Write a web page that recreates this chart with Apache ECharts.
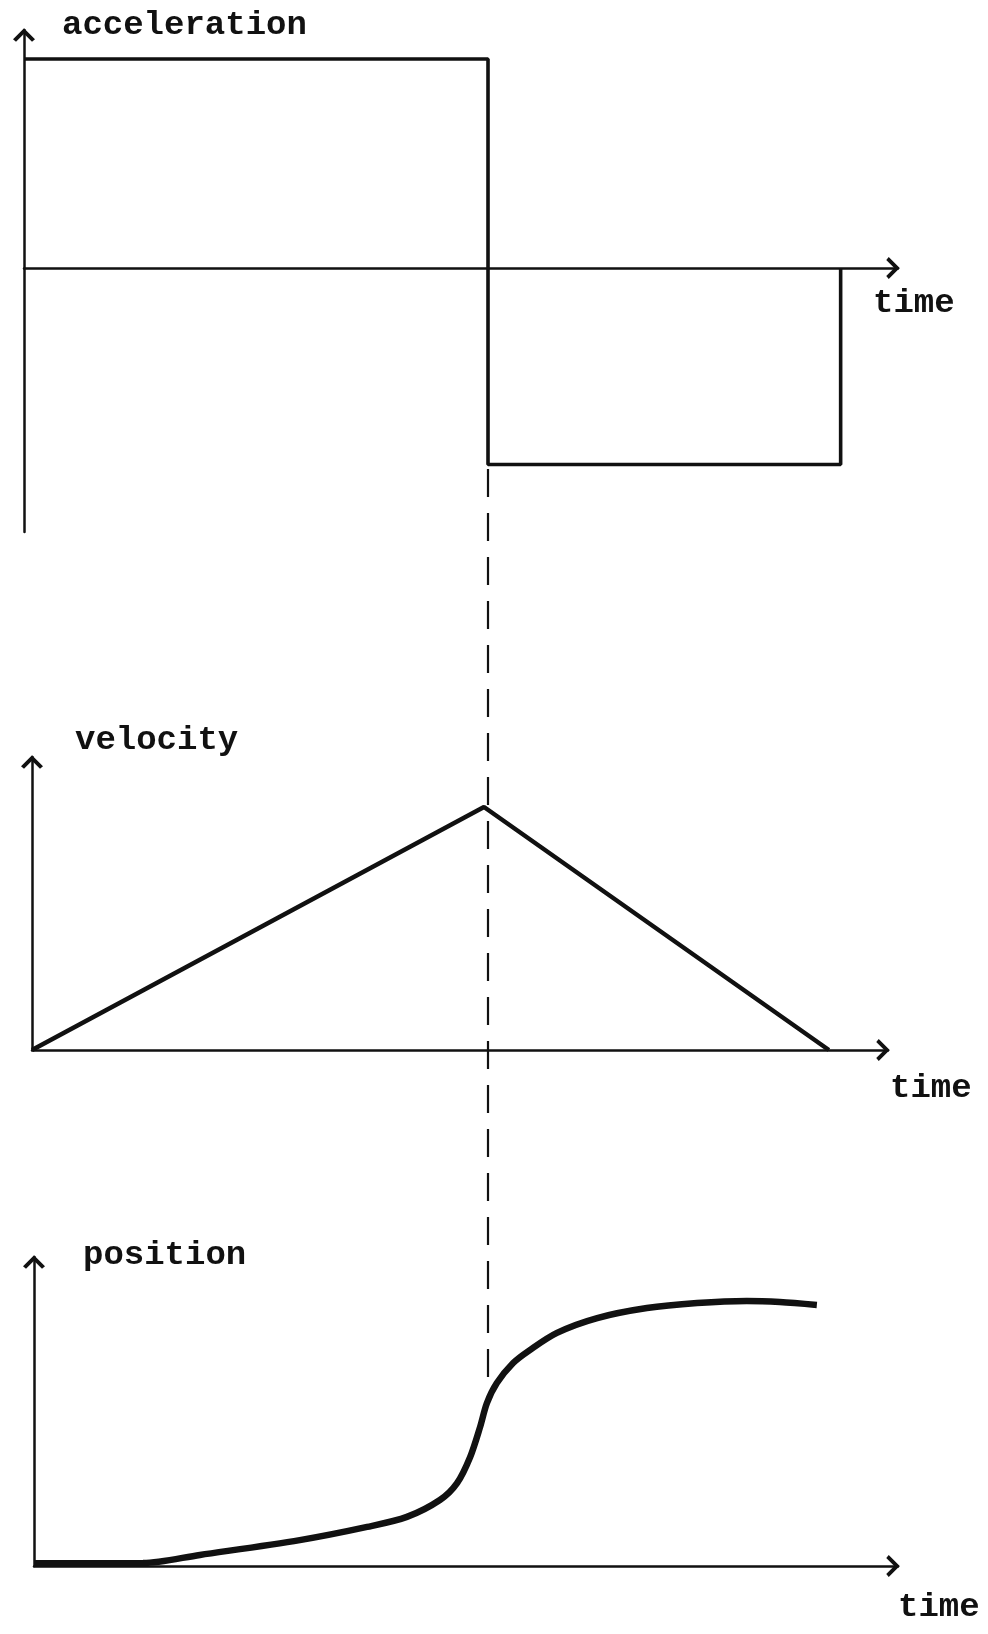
<!DOCTYPE html>
<html>
<head>
<meta charset="utf-8">
<script src="https://cdn.jsdelivr.net/npm/echarts@6/dist/echarts.min.js"></script>
<style>
  html, body { margin: 0; padding: 0; background: #fff; }
  #chart { width: 988px; height: 1634px; }
</style>
</head>
<body>
<div id="chart"></div>
<script>
// ---- data (time in units of the switch time t1 = 1) ----
const switchTime = 1;
const accelTime = [0, 1, 1, 1.76, 1.76];
const accelValue = [1, 1, -0.94, -0.94, 0];
const velTime = [0, 1, 1.763];
const velValue = [0, 1, 0];
const posTime = [0, 0.241, 0.367, 0.588, 0.737, 0.825, 0.898, 0.936, 0.965, 0.987, 1.002, 1.024, 1.060, 1.097, 1.157, 1.246, 1.356, 1.467, 1.577, 1.650, 1.732];
const posValue = [0.01, 0.011, 0.042, 0.098, 0.148, 0.186, 0.250, 0.314, 0.413, 0.527, 0.617, 0.693, 0.769, 0.818, 0.883, 0.939, 0.977, 0.996, 1.004, 1.000, 0.989];
const panelLabels = ['acceleration', 'velocity', 'position'];
const axisLabel = 'time';

const ink = '#111';
const font = 'bold 34px "Liberation Mono", "DejaVu Sans Mono", monospace';
const chevron = 'path://M0,11 L11,0 L22,11 L19,13.5 L11,5.5 L3,13.5 Z';

function zip(a, b) { return a.map((v, i) => [v, b[i]]); }

function axisLineStyle(ends) {
  return {
    show: true,
    onZero: true,
    symbol: ends,
    symbolSize: [22, 14],
    symbolOffset: [0, -5],
    lineStyle: { color: ink, width: 2.5 }
  };
}
function xAx(gridIndex, max, show) {
  return {
    type: 'value', gridIndex, min: 0, max,
    axisLine: show ? axisLineStyle(['none', chevron]) : { show: false },
    axisTick: { show: false }, axisLabel: { show: false }, splitLine: { show: false }
  };
}
function yAx(gridIndex, min, max, show) {
  return {
    type: 'value', gridIndex, min, max,
    axisLine: show ? axisLineStyle(['none', chevron]) : { show: false },
    axisTick: { show: false }, axisLabel: { show: false }, splitLine: { show: false }
  };
}

const chart = echarts.init(document.getElementById('chart'), null, { renderer: 'canvas' });
chart.setOption({
  backgroundColor: '#fff',
  animation: false,
  grid: [
    { left: 24, top: 30, width: 874, height: 502 },
    { left: 32, top: 757, width: 856, height: 293 },
    { left: 34, top: 1257, width: 864, height: 309 },
    { left: 24, top: 468, width: 874, height: 909 }
  ],
  xAxis: [
    xAx(0, 1.8836, true),
    xAx(1, 1.8938, true),
    xAx(2, 1.9115, true),
    xAx(3, 1.8836, false)
  ],
  yAxis: [
    yAx(0, -1.2632, 1.1388, true),
    yAx(1, 0, 1.2058, true),
    yAx(2, 0, 1.1705, true),
    yAx(3, 0, 1, false)
  ],
  series: [
    {
      type: 'line', xAxisIndex: 0, yAxisIndex: 0, data: zip(accelTime, accelValue),
      showSymbol: false, lineStyle: { color: ink, width: 3.6 }, z: 3
    },
    {
      type: 'line', xAxisIndex: 1, yAxisIndex: 1, data: zip(velTime, velValue),
      showSymbol: false, lineStyle: { color: ink, width: 4.5 }, z: 3
    },
    {
      type: 'line', xAxisIndex: 2, yAxisIndex: 2, data: zip(posTime, posValue),
      showSymbol: false, smooth: 0.3, lineStyle: { color: ink, width: 6.5 }, z: 3
    },
    {
      type: 'line', xAxisIndex: 3, yAxisIndex: 3, data: [[switchTime, 0], [switchTime, 1]],
      showSymbol: false, lineStyle: { color: ink, width: 2.2, type: [28, 16] }, z: 2
    }
  ],
  graphic: [
    { type: 'text', x: 62, y: 25, style: { text: panelLabels[0], font, fill: ink, verticalAlign: 'middle' } },
    { type: 'text', x: 873, y: 303, style: { text: axisLabel, font, fill: ink, verticalAlign: 'middle' } },
    { type: 'text', x: 75, y: 740, style: { text: panelLabels[1], font, fill: ink, verticalAlign: 'middle' } },
    { type: 'text', x: 890, y: 1088, style: { text: axisLabel, font, fill: ink, verticalAlign: 'middle' } },
    { type: 'text', x: 83, y: 1255, style: { text: panelLabels[2], font, fill: ink, verticalAlign: 'middle' } },
    { type: 'text', x: 898, y: 1607, style: { text: axisLabel, font, fill: ink, verticalAlign: 'middle' } }
  ]
});
</script>
</body>
</html>
